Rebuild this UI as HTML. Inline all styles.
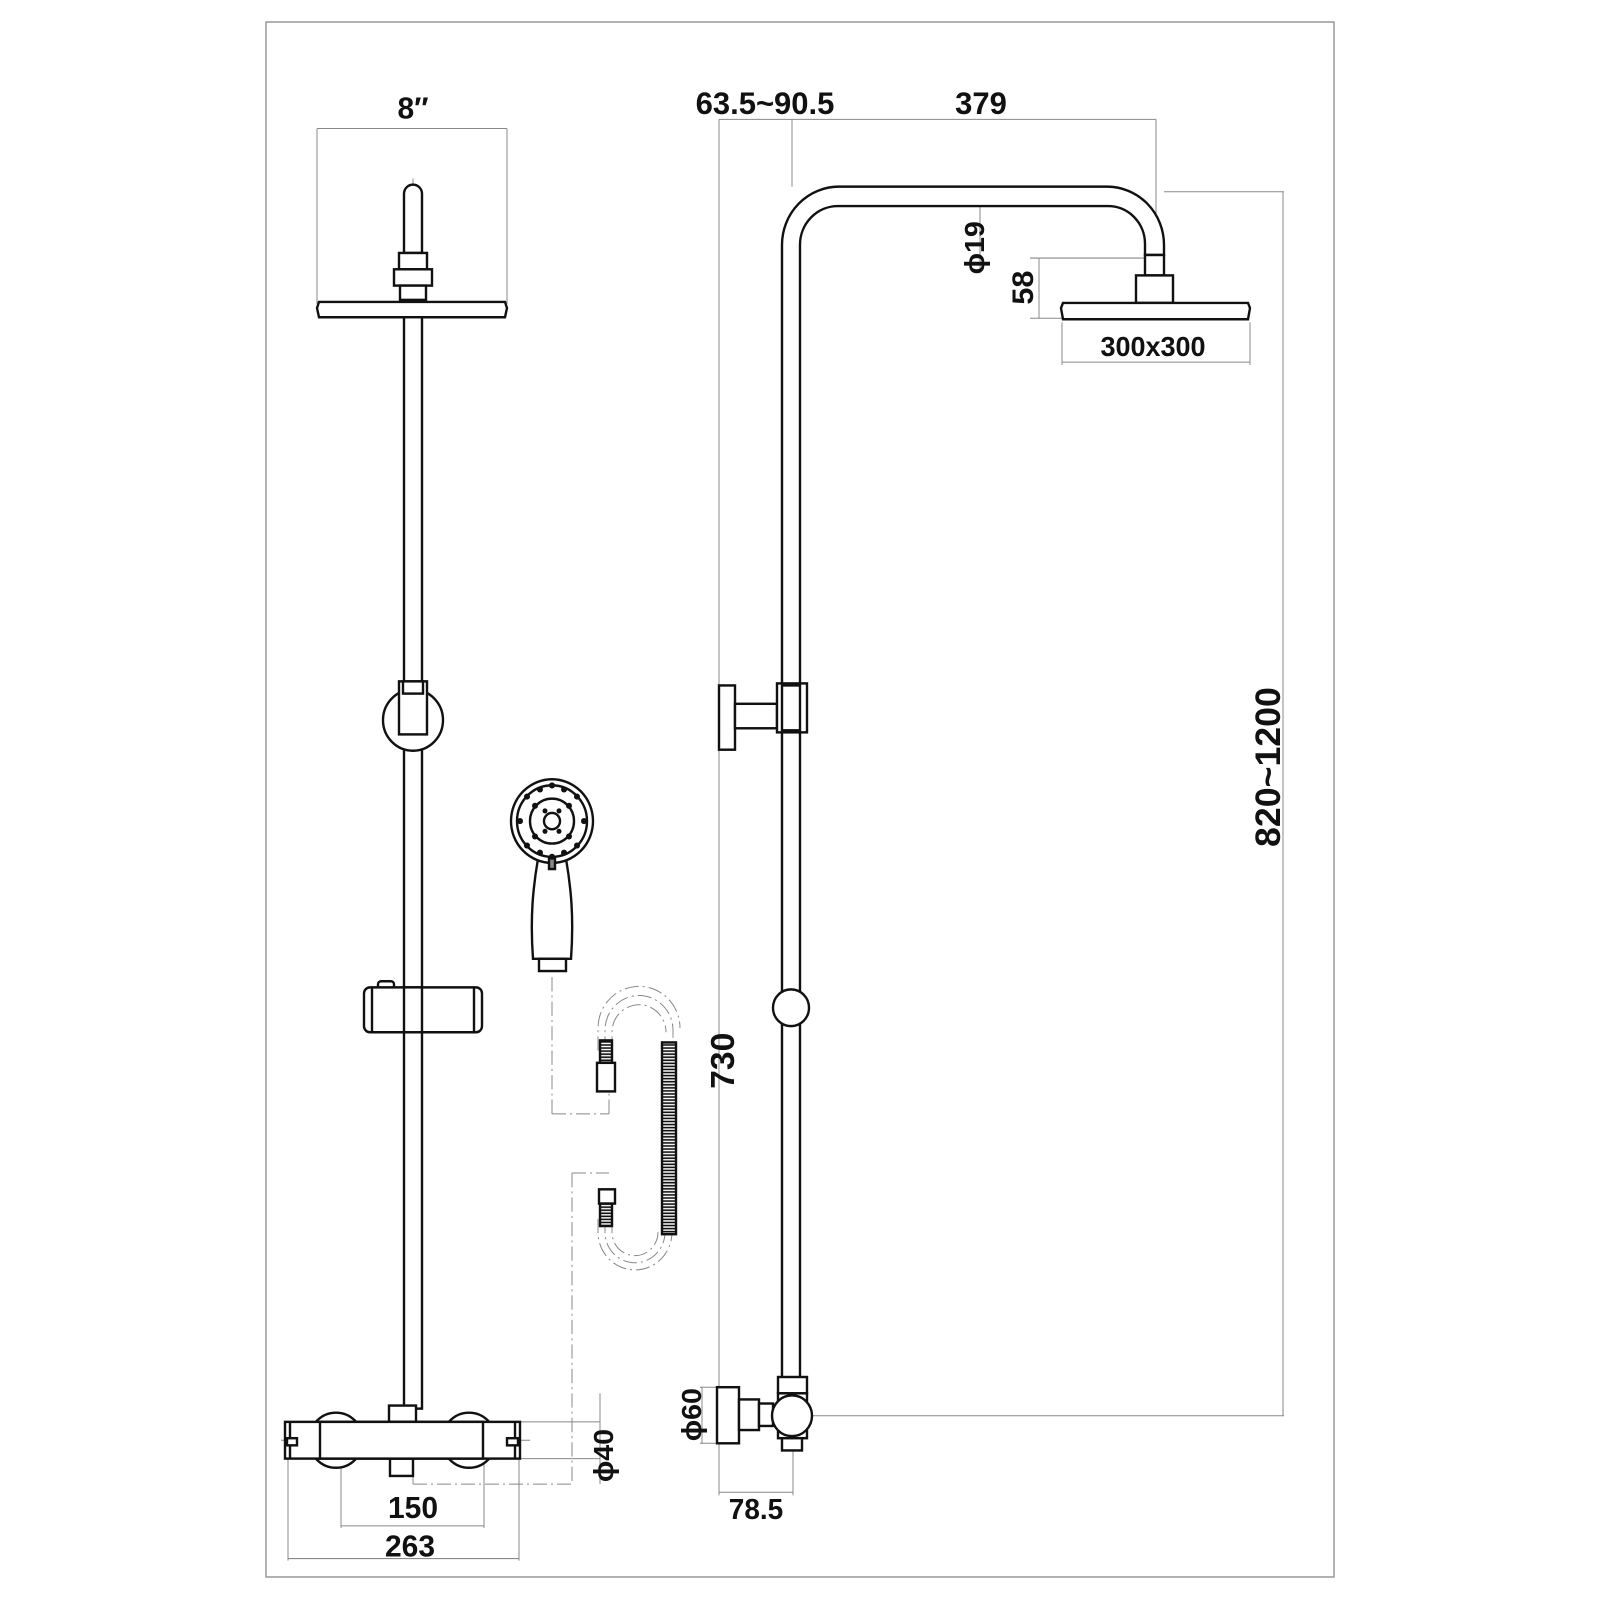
<!DOCTYPE html>
<html><head><meta charset="utf-8"><style>
html,body{margin:0;padding:0;background:#fff}
svg{display:block}
text{font-family:"Liberation Sans",sans-serif;font-weight:bold;fill:#111}
</style></head><body>
<svg width="1600" height="1600" viewBox="0 0 1600 1600" xmlns="http://www.w3.org/2000/svg">
<defs>
<pattern id="hatch" width="6" height="3" patternUnits="userSpaceOnUse"><rect width="6" height="3" fill="#fff"/><line x1="0" y1="1.5" x2="6" y2="1.5" stroke="#111" stroke-width="1.6"/></pattern>
</defs>
<rect x="266" y="22" width="1068" height="1555" fill="none" stroke="#999" stroke-width="1.5"/>
<g transform="scale(1,1.02)">
<g fill="none" stroke="#888" stroke-width="1">
<line x1="317" y1="126" x2="507" y2="126"/>
<line x1="317" y1="126" x2="317" y2="298"/>
<line x1="507" y1="126" x2="507" y2="298"/>
<line x1="288" y1="1430" x2="288" y2="1530"/>
<line x1="519" y1="1430" x2="519" y2="1530"/>
<line x1="288" y1="1528" x2="519" y2="1528"/>
<line x1="341" y1="1430" x2="341" y2="1498"/>
<line x1="484" y1="1430" x2="484" y2="1498"/>
<line x1="341" y1="1496" x2="484" y2="1496"/>
<line x1="520" y1="1394" x2="600" y2="1394"/>
<line x1="520" y1="1430" x2="600" y2="1430"/>
<line x1="600" y1="1366" x2="600" y2="1455"/>
<line x1="719" y1="117" x2="1156" y2="117"/>
<line x1="719" y1="117" x2="719" y2="1466"/>
<line x1="792" y1="117" x2="792" y2="183"/>
<line x1="1156" y1="117" x2="1156" y2="250"/>
<line x1="1164" y1="188" x2="1284" y2="188"/>
<line x1="812" y1="1388" x2="1284" y2="1388"/>
<line x1="1283" y1="188" x2="1283" y2="1388"/>
<line x1="980" y1="183" x2="980" y2="268"/>
<line x1="1030" y1="253" x2="1145" y2="253"/>
<line x1="1030" y1="312" x2="1062" y2="312"/>
<line x1="1039" y1="253" x2="1039" y2="312"/>
<line x1="1062" y1="316" x2="1062" y2="358"/>
<line x1="1250" y1="316" x2="1250" y2="358"/>
<line x1="1062" y1="355" x2="1250" y2="355"/>
<line x1="700" y1="1360" x2="717" y2="1360"/>
<line x1="700" y1="1415" x2="717" y2="1415"/>
<line x1="702" y1="1360" x2="702" y2="1415"/>
<line x1="793" y1="1410" x2="793" y2="1466"/>
<line x1="719" y1="1463" x2="793" y2="1463"/>
</g>
<g fill="none" stroke="#888" stroke-width="1" stroke-dasharray="14,4,2,4">
<line x1="413" y1="175" x2="413" y2="1455"/>
<line x1="413" y1="1455" x2="572" y2="1455"/>
<line x1="572" y1="1150" x2="572" y2="1455"/>
<line x1="572" y1="1150" x2="609" y2="1150"/>
<line x1="552" y1="958" x2="552" y2="1092"/>
<line x1="552" y1="1092" x2="609" y2="1092"/>
<line x1="609" y1="1092" x2="609" y2="1070"/>
<line x1="281" y1="1412" x2="530" y2="1412"/>
<path d="M605 1030 L605 1010 A34 34 0 0 1 673 1010 L673 1025"/>
<path d="M612 1030 L612 1012 A27 27 0 0 1 666 1012"/>
<path d="M598 1030 L598 1008 A41 41 0 0 1 680 1008"/>
<path d="M605 1195 L605 1208 A30 30 0 0 0 665 1208"/>
<path d="M598 1195 L598 1208 A37 37 0 0 0 672 1208"/>
<path d="M612 1195 L612 1208 A23 23 0 0 0 658 1208"/>
<path d="M791 240 L791 231 A48 48 0 0 1 839 193 L1110 193 A46 46 0 0 1 1155 238 L1155 250"/>
</g>

<g fill="#fff" stroke="#111" stroke-width="2.4">
<path d="M404 248 L404 190 A9 9 0 0 1 422 190 L422 248 Z"/>
<rect x="399" y="248" width="28" height="16"/>
<rect x="394" y="264" width="38" height="16"/>
<rect x="400" y="280" width="26" height="14"/>
<polygon points="319,296 505,296 507,302 505,311 319,311 317,302"/>
<rect x="404" y="311" width="18" height="1070"/>
<circle cx="413" cy="706" r="30"/>
<rect x="399" y="668" width="28" height="52"/>
<rect x="403" y="668" width="20" height="12"/>
<rect x="378" y="962" width="16" height="9" rx="3"/>
<rect x="364" y="968" width="118" height="44" rx="6"/>
<line x1="372" y1="968" x2="372" y2="1012"/>
<line x1="474" y1="968" x2="474" y2="1012"/>
<rect x="404" y="968" width="18" height="44"/>
<circle cx="336" cy="1412" r="27"/>
<circle cx="469" cy="1412" r="27"/>
<rect x="389" y="1378" width="27" height="16"/>
<rect x="390" y="1430" width="23" height="17"/>
<rect x="285" y="1394" width="235" height="36"/>
<line x1="290" y1="1394" x2="290" y2="1430"/>
<line x1="515" y1="1394" x2="515" y2="1430"/>
<rect x="287" y="1410" width="10" height="7"/>
<rect x="507" y="1410" width="11" height="7"/>
<rect x="320" y="1394" width="163" height="36"/>

<path d="M538 842 C533 870 530 900 533 940 L571 940 C574 900 571 870 566 842 Z"/>
<rect x="539" y="940" width="27" height="12"/>
<circle cx="552" cy="805" r="41"/>
<circle cx="552" cy="805" r="35"/>
<circle cx="552" cy="805" r="22"/>
<circle cx="552" cy="805" r="8"/>
<rect x="549" y="840" width="6" height="12" fill="#888"/>

<rect x="600" y="1020" width="12" height="22" fill="url(#hatch)"/>
<rect x="597" y="1042" width="18" height="28"/>
<rect x="662" y="1022" width="14" height="188" fill="url(#hatch)"/>
<rect x="599" y="1166" width="16" height="14"/>
<rect x="600" y="1180" width="12" height="22" fill="url(#hatch)"/>

<path d="M782 1380 L782 240 A57 57 0 0 1 839 183 L1107 183 A57 57 0 0 1 1164 240 L1164 250 L1145 250 L1145 239 A37 37 0 0 0 1108 202 L838 202 A38 38 0 0 0 800 240 L800 1380 Z"/>
<rect x="1145" y="250" width="19" height="20"/>
<rect x="1136" y="270" width="37" height="27"/>
<polygon points="1063,297 1248,297 1250,302 1248,313 1063,313 1061,302"/>
<rect x="719" y="672" width="16" height="63"/>
<rect x="735" y="690" width="42" height="24"/>
<rect x="777" y="670" width="30" height="48"/>
<rect x="782" y="672" width="18" height="44"/>
<circle cx="791" cy="988" r="18"/>
<rect x="717" y="1360" width="22" height="55"/>
<rect x="739" y="1372" width="20" height="30"/>
<rect x="759" y="1376" width="14" height="22"/>
<rect x="778" y="1350" width="29" height="16"/>
<rect x="778" y="1366" width="29" height="44"/>
<rect x="782" y="1410" width="20" height="12"/>
<circle cx="792" cy="1388" r="20"/>
</g>
<g fill="#111">
<circle cx="535" cy="790" r="3"/><circle cx="569" cy="790" r="3"/><circle cx="535" cy="820" r="3"/><circle cx="569" cy="820" r="3"/>
<circle cx="552" cy="770" r="3"/><circle cx="552" cy="840" r="3"/><circle cx="520" cy="805" r="3"/><circle cx="584" cy="805" r="3"/>
<circle cx="527" cy="781" r="3"/><circle cx="577" cy="781" r="3"/><circle cx="527" cy="829" r="3"/><circle cx="577" cy="829" r="3"/>
<circle cx="540" cy="774" r="3"/><circle cx="564" cy="774" r="3"/><circle cx="540" cy="836" r="3"/><circle cx="564" cy="836" r="3"/>
<circle cx="545" cy="795" r="2.5"/><circle cx="559" cy="795" r="2.5"/><circle cx="545" cy="815" r="2.5"/><circle cx="559" cy="815" r="2.5"/>
</g>

<g font-size="30" text-anchor="middle">
<text x="413" y="116">8″</text>
<text x="765" y="112" font-size="31">63.5~90.5</text>
<text x="981" y="112" font-size="31">379</text>
<text x="1153" y="349" font-size="27">300x300</text>
<text x="413" y="1488">150</text>
<text x="410" y="1526">263</text>
<text x="756" y="1489" font-size="28">78.5</text>
<text transform="translate(1280,752) rotate(-90)" font-size="35">820~1200</text>
<text transform="translate(734,1040) rotate(-90)" font-size="33">730</text>
<text transform="translate(984,243) rotate(-90)" font-size="28">ϕ19</text>
<text transform="translate(1033,282) rotate(-90)" font-size="30">58</text>
<text transform="translate(701,1387) rotate(-90)" font-size="28">ϕ60</text>
<text transform="translate(613,1427) rotate(-90)" font-size="28">ϕ40</text>
</g>
</g>
</svg>
</body></html>
